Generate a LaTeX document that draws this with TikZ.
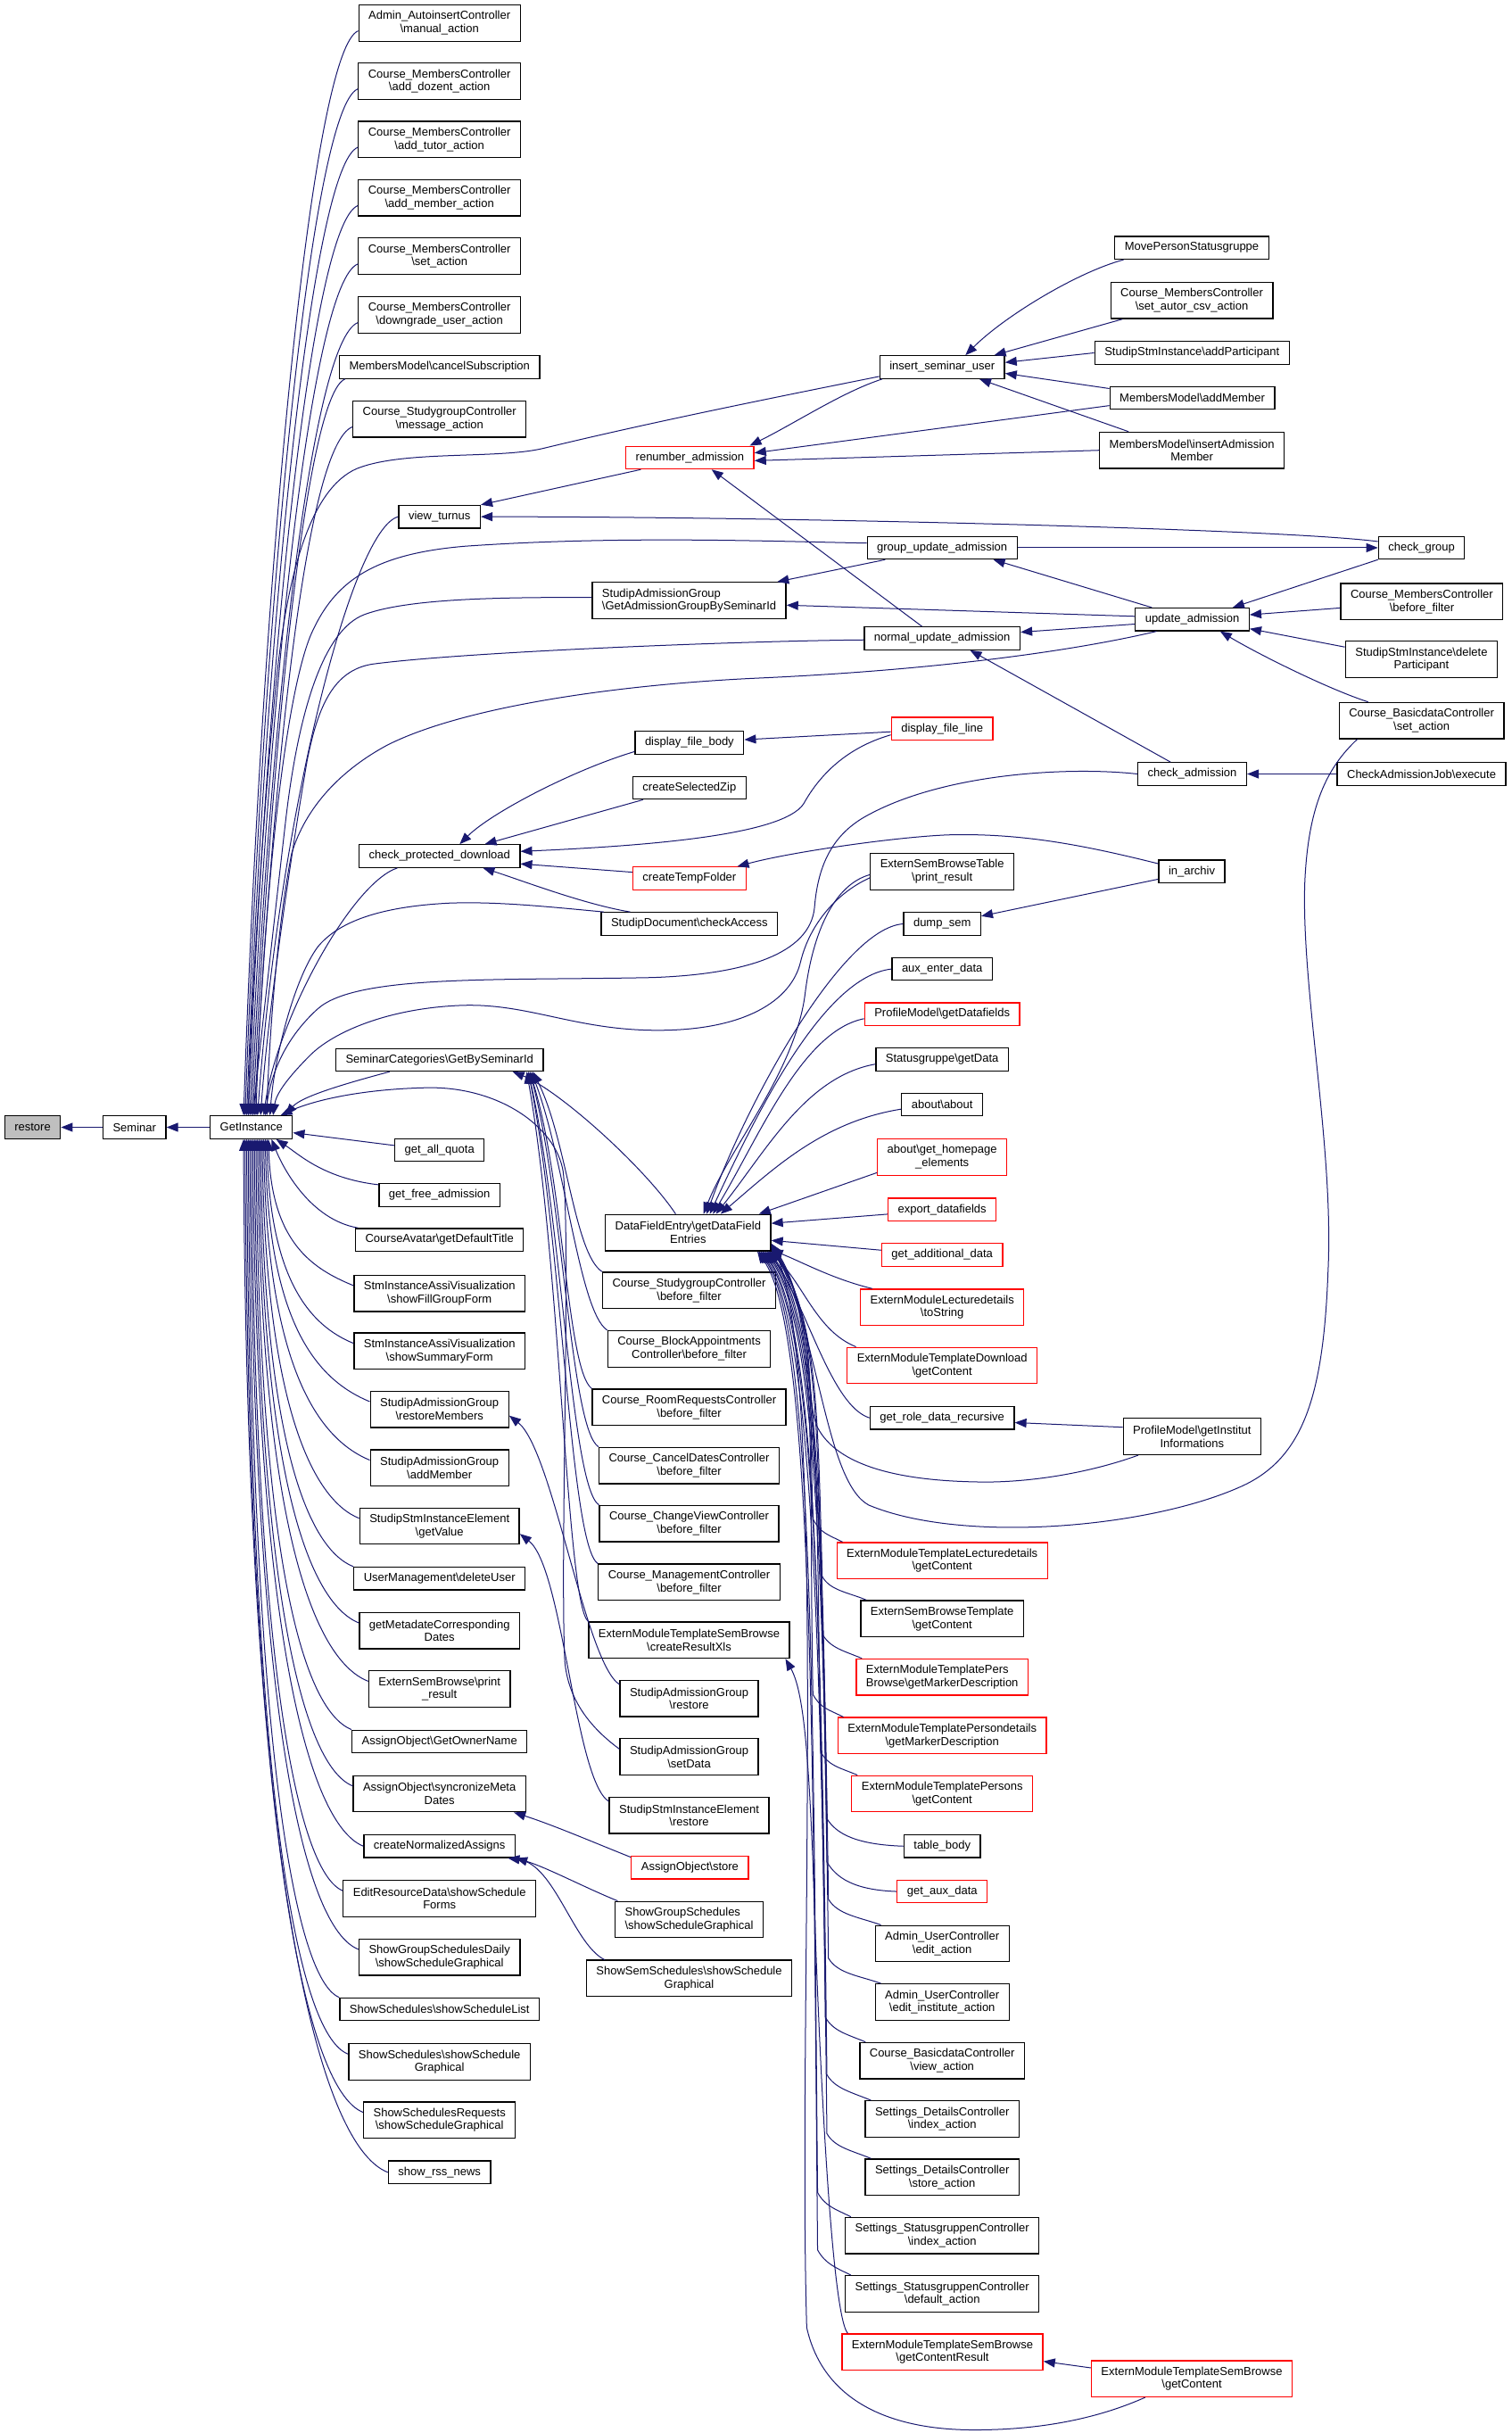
\documentclass[tikz,border=0pt]{standalone}
\usepackage{fontspec}
\setmainfont{Liberation Sans}
\usetikzlibrary{arrows.meta,calc}
\definecolor{edgec}{RGB}{25,25,112}
\definecolor{redb}{RGB}{255,0,0}
\definecolor{grayf}{RGB}{191,191,191}
\newcommand\BSL{\textbackslash}
\begin{document}
\begin{tikzpicture}[x=1.7385pt,y=-1.7385pt,
 every node/.style={font=\fontsize{13pt}{14.7pt}\selectfont},
 bx/.style={draw=black, line width=1.3pt, fill=white, inner xsep=11pt, inner ysep=0pt, align=center, minimum height=25.4pt},
 b2/.style={bx, minimum height=40.6pt},
 rd/.style={draw=redb},
 lnk/.style={draw=edgec, line width=1pt, -{Triangle[length=13pt,width=10pt]}},
]
\fill[white] (0,0) rectangle (974.6,1568);
\useasboundingbox (0,0) rectangle (974.6,1568);

% ---------- nodes ----------
\node[bx,fill=grayf] (restore) at (21,726.5) {restore};
\node[bx] (sem) at (86.7,726.5) {Seminar};
\node[bx] (GI) at (162,726.5) {GetInstance};

% col 2
\node[b2] (c2a) at (283.3,14.9) {Admin\_AutoinsertController\\\BSL manual\_action};
\node[b2] (c2b) at (283.3,52.3) {Course\_MembersController\\\BSL add\_dozent\_action};
\node[b2] (c2c) at (283.3,89.9) {Course\_MembersController\\\BSL add\_tutor\_action};
\node[b2] (c2d) at (283.3,127.5) {Course\_MembersController\\\BSL add\_member\_action};
\node[b2] (c2e) at (283.3,165.1) {Course\_MembersController\\\BSL set\_action};
\node[b2] (c2f) at (283.3,202.9) {Course\_MembersController\\\BSL downgrade\_user\_action};
\node[bx] (c2g) at (283.3,236.6) {MembersModel\BSL cancelSubscription};
\node[b2] (c2h) at (283.3,270.1) {Course\_StudygroupController\\\BSL message\_action};
\node[bx] (vt) at (283.3,333) {view\_turnus};
\node[bx] (cpd) at (283.3,551.7) {check\_protected\_download};
\node[bx] (sc) at (283.3,683) {SeminarCategories\BSL GetBySeminarId};
\node[bx] (gaq) at (283.3,741.2) {get\_all\_quota};
\node[bx] (gfa) at (283.3,770.2) {get\_free\_admission};
\node[bx] (cav) at (283.3,799) {CourseAvatar\BSL getDefaultTitle};
\node[b2] (sfg) at (283.3,833.5) {StmInstanceAssiVisualization\\\BSL showFillGroupForm};
\node[b2] (ssf) at (283.3,870.7) {StmInstanceAssiVisualization\\\BSL showSummaryForm};
\node[b2] (rm) at (283.3,908.3) {StudipAdmissionGroup\\\BSL restoreMembers};
\node[b2] (sam) at (283.3,946) {StudipAdmissionGroup\\\BSL addMember};
\node[b2] (gv) at (283.3,983.5) {StudipStmInstanceElement\\\BSL getValue};
\node[bx] (du) at (283.3,1017.3) {UserManagement\BSL deleteUser};
\node[b2] (gmd) at (283.3,1050.9) {getMetadateCorresponding\\Dates};
\node[b2] (esb) at (283.3,1088.5) {ExternSemBrowse\BSL print\\\_result};
\node[bx] (gon) at (283.3,1122.3) {AssignObject\BSL GetOwnerName};
\node[b2] (smd) at (283.3,1156) {AssignObject\BSL syncronizeMeta\\Dates};
\node[bx] (cna) at (283.3,1189.8) {createNormalizedAssigns};
\node[b2] (erd) at (283.3,1223.5) {EditResourceData\BSL showSchedule\\Forms};
\node[b2] (gsd) at (283.3,1261.3) {ShowGroupSchedulesDaily\\\BSL showScheduleGraphical};
\node[bx] (ssl) at (283.3,1294.9) {ShowSchedules\BSL showScheduleList};
\node[b2] (ssg) at (283.3,1328.8) {ShowSchedules\BSL showSchedule\\Graphical};
\node[b2] (ssr) at (283.3,1366.3) {ShowSchedulesRequests\\\BSL showScheduleGraphical};
\node[bx] (rss) at (283.3,1400) {show\_rss\_news};

% col 3
\node[bx,rd] (ren) at (444.7,294.9) {renumber\_admission};
\node[b2,align=left] (gag) at (444.2,387) {StudipAdmissionGroup\\\BSL GetAdmissionGroupBySeminarId};
\node[bx] (dfb) at (444.4,478.7) {display\_file\_body};
\node[bx] (csz) at (444.4,507.7) {createSelectedZip};
\node[bx,rd] (ctf) at (444.4,566.1) {createTempFolder};
\node[bx] (sdc) at (444.4,595.4) {StudipDocument\BSL checkAccess};
\node[b2] (dfe) at (443.5,794.4) {DataFieldEntry\BSL getDataField\\Entries};
\node[b2] (csb) at (444.2,831.6) {Course\_StudygroupController\\\BSL before\_filter};
\node[b2] (cba) at (444.2,869.3) {Course\_BlockAppointments\\Controller\BSL before\_filter};
\node[b2] (crr) at (444.2,906.9) {Course\_RoomRequestsController\\\BSL before\_filter};
\node[b2] (ccd) at (444.2,944.5) {Course\_CancelDatesController\\\BSL before\_filter};
\node[b2] (ccv) at (444.2,981.9) {Course\_ChangeViewController\\\BSL before\_filter};
\node[b2] (cmg) at (444.2,1019.7) {Course\_ManagementController\\\BSL before\_filter};
\node[b2] (crx) at (444.2,1057) {ExternModuleTemplateSemBrowse\\\BSL createResultXls};
\node[b2] (sar) at (444.2,1094.6) {StudipAdmissionGroup\\\BSL restore};
\node[b2] (sasd) at (444.2,1132.2) {StudipAdmissionGroup\\\BSL setData};
\node[b2] (ser) at (444.2,1170) {StudipStmInstanceElement\\\BSL restore};
\node[bx,rd] (aos) at (444.7,1203.6) {AssignObject\BSL store};
\node[b2,align=left] (sgs) at (444.2,1237.1) {ShowGroupSchedules\\\BSL showScheduleGraphical};
\node[b2] (sss) at (444.2,1275) {ShowSemSchedules\BSL showSchedule\\Graphical};

% col 4
\node[bx] (isu) at (607.3,236.6) {insert\_seminar\_user};
\node[bx] (gua) at (607.3,353) {group\_update\_admission};
\node[bx] (nua) at (607.3,411.4) {normal\_update\_admission};
\node[bx,rd] (dfl) at (607.3,469.6) {display\_file\_line};
\node[b2] (est) at (607.3,561.7) {ExternSemBrowseTable\\\BSL print\_result};
\node[bx] (dsm) at (607.3,595.4) {dump\_sem};
\node[bx] (aed) at (607.3,624.5) {aux\_enter\_data};
\node[bx,rd] (pgd) at (607.3,653.5) {ProfileModel\BSL getDatafields};
\node[bx] (sgd) at (607.3,682.8) {Statusgruppe\BSL getData};
\node[bx] (abt) at (607.3,711.8) {about\BSL about};
\node[b2,rd] (ghe) at (607.3,745.7) {about\BSL get\_homepage\\\_elements};
\node[bx,rd] (exd) at (607.3,779.5) {export\_datafields};
\node[bx,rd] (gad) at (607.3,808.7) {get\_additional\_data};
\node[b2,rd] (eml) at (607.3,842.5) {ExternModuleLecturedetails\\\BSL toString};
\node[b2,rd] (etd) at (607.3,880) {ExternModuleTemplateDownload\\\BSL getContent};
\node[bx] (grd) at (607.3,913.8) {get\_role\_data\_recursive};
\node[b2,rd] (etl) at (607.3,1005.8) {ExternModuleTemplateLecturedetails\\\BSL getContent};
\node[b2] (esbt) at (607.3,1043.2) {ExternSemBrowseTemplate\\\BSL getContent};
\node[b2,rd,align=left] (epb) at (607.3,1080.8) {ExternModuleTemplatePers\\Browse\BSL getMarkerDescription};
\node[b2,rd] (epd) at (607.3,1118.6) {ExternModuleTemplatePersondetails\\\BSL getMarkerDescription};
\node[b2,rd] (eps) at (607.3,1156) {ExternModuleTemplatePersons\\\BSL getContent};
\node[bx] (tbd) at (607.3,1189.8) {table\_body};
\node[bx,rd] (gxd) at (607.3,1219) {get\_aux\_data};
\node[b2] (aue) at (607.3,1252.6) {Admin\_UserController\\\BSL edit\_action};
\node[b2] (aui) at (607.3,1290.3) {Admin\_UserController\\\BSL edit\_institute\_action};
\node[b2] (cbv) at (607.3,1328) {Course\_BasicdataController\\\BSL view\_action};
\node[b2] (sdi) at (607.3,1365.6) {Settings\_DetailsController\\\BSL index\_action};
\node[b2] (sds) at (607.3,1403.1) {Settings\_DetailsController\\\BSL store\_action};
\node[b2] (ssi) at (607.3,1440.7) {Settings\_StatusgruppenController\\\BSL index\_action};
\node[b2] (ssd) at (607.3,1478.3) {Settings\_StatusgruppenController\\\BSL default\_action};
\node[b2,rd] (gcr) at (607.5,1515.8) {ExternModuleTemplateSemBrowse\\\BSL getContentResult};

% col 5
\node[bx] (mps) at (768.2,159.7) {MovePersonStatusgruppe};
\node[b2] (sac) at (768.2,193.6) {Course\_MembersController\\\BSL set\_autor\_csv\_action};
\node[bx] (sap) at (768.3,227.4) {StudipStmInstance\BSL addParticipant};
\node[bx] (mam) at (768.5,256.4) {MembersModel\BSL addMember};
\node[b2] (mia) at (768.3,290.2) {MembersModel\BSL insertAdmission\\Member};
\node[bx] (upd) at (768.5,399.2) {update\_admission};
\node[bx] (cha) at (768.5,498.8) {check\_admission};
\node[bx] (iar) at (768.2,561.6) {in\_archiv};
\node[b2] (gii) at (768.4,925.8) {ProfileModel\BSL getInstitut\\Informations};
\node[b2,rd] (gcn) at (768.2,1533) {ExternModuleTemplateSemBrowse\\\BSL getContent};

% col 6
\node[bx] (chg) at (916.3,353) {check\_group};
\node[b2] (cmb) at (916.5,387.8) {Course\_MembersController\\\BSL before\_filter};
\node[b2] (sdp) at (916.2,425) {StudipStmInstance\BSL delete\\Participant};
\node[b2] (cbs) at (916.3,464.4) {Course\_BasicdataController\\\BSL set\_action};
\node[bx] (caj) at (916.3,498.8) {CheckAdmissionJob\BSL execute};

% ---------- edges ----------
\draw[lnk] (sem.west) -- (restore.east);
\draw[lnk] (GI.west) -- (sem.east);

% column 2 above GetInstance
\draw[lnk] ($(c2a.west)+(0,5)$) .. controls +(-30,12) and +(12,-349) .. ($(GI.north)+(-5,0)$);
\draw[lnk] ($(c2b.west)+(0,5)$) .. controls +(-30,12) and +(12,-331) .. ($(GI.north)+(-4,0)$);
\draw[lnk] ($(c2c.west)+(0,5)$) .. controls +(-30,12) and +(12,-312) .. ($(GI.north)+(-3,0)$);
\draw[lnk] ($(c2d.west)+(0,5)$) .. controls +(-30,12) and +(12,-293) .. ($(GI.north)+(-2,0)$);
\draw[lnk] ($(c2e.west)+(0,5)$) .. controls +(-30,12) and +(12,-274) .. ($(GI.north)+(-1,0)$);
\draw[lnk] ($(c2f.west)+(0,5)$) .. controls +(-30,12) and +(12,-256) .. (GI.north);
\draw[lnk] ($(c2g.south west)+(4,0)$) .. controls +(-25,10) and +(12,-239) .. ($(GI.north)+(1,0)$);
\draw[lnk] ($(c2h.west)+(0,5)$) .. controls +(-30,12) and +(12,-222) .. ($(GI.north)+(2,0)$);
\draw[lnk] (vt.west) .. controls +(-30,8) and +(14,-193) .. ($(GI.north)+(4,0)$);
\draw[lnk] ($(cpd.south west)+(25,0)$) .. controls +(-30,10) and +(8,-60) .. ($(GI.north)+(8,0)$);
\draw[lnk] ($(sc.south west)+(35,0)$) .. controls +(-30,8) and +(10,-12) .. ($(GI.north)+(22,0)$);

% column 2 below GetInstance
\draw[lnk] ($(gaq.west)+(0,-3)$) -- ($(GI.east)+(0,3.5)$);
\draw[lnk] ($(gfa.north west)+(0,1)$) .. controls +(-35,-4) and +(15,10) .. ($(GI.south)+(16,0)$);
\draw[lnk] ($(cav.north west)+(2,0)$) .. controls +(-30,-5) and +(8,20) .. ($(GI.south)+(13,0)$);
\draw[lnk] ($(sfg.west)+(0,-5)$) .. controls +(-27,-11) and +(2,66) .. ($(GI.south)+(11,0)$);
\draw[lnk] ($(ssf.west)+(0,-5)$) .. controls +(-27,-11) and +(2,92) .. ($(GI.south)+(10,0)$);
\draw[lnk] ($(rm.west)+(0,-5)$) .. controls +(-34,-14) and +(2,119) .. ($(GI.south)+(9,0)$);
\draw[lnk] ($(sam.west)+(0,-5)$) .. controls +(-34,-14) and +(2,145) .. ($(GI.south)+(8,0)$);
\draw[lnk] ($(gv.west)+(0,-5)$) .. controls +(-30,-12) and +(2,171) .. ($(GI.south)+(7,0)$);
\draw[lnk] (du.north west) .. controls +(-30,-12) and +(2,193) .. ($(GI.south)+(6,0)$);
\draw[lnk] ($(gmd.west)+(0,-5)$) .. controls +(-32,-13) and +(2,218) .. ($(GI.south)+(5,0)$);
\draw[lnk] ($(esb.west)+(0,-5)$) .. controls +(-36,-14) and +(2,245) .. ($(GI.south)+(4,0)$);
\draw[lnk] (gon.north west) .. controls +(-32,-13) and +(2,267) .. ($(GI.south)+(3,0)$);
\draw[lnk] ($(smd.west)+(0,-5)$) .. controls +(-32,-13) and +(2,292) .. ($(GI.south)+(2,0)$);
\draw[lnk] (cna.west) .. controls +(-35,-14) and +(2,319) .. ($(GI.south)+(1,0)$);
\draw[lnk] ($(erd.west)+(0,-5)$) .. controls +(-29,-12) and +(2,340) .. (GI.south);
\draw[lnk] ($(gsd.west)+(0,-5)$) .. controls +(-36,-14) and +(2,366) .. ($(GI.south)+(-1,0)$);
\draw[lnk] (ssl.north west) .. controls +(-29,-12) and +(2,388) .. ($(GI.south)+(-2,0)$);
\draw[lnk] ($(ssg.west)+(0,-5)$) .. controls +(-34,-13) and +(2,413) .. ($(GI.south)+(-3,0)$);
\draw[lnk] ($(ssr.west)+(0,-5)$) .. controls +(-38,-15) and +(2,439) .. ($(GI.south)+(-4,0)$);
\draw[lnk] (rss.west) .. controls +(-46,-18) and +(2,466) .. ($(GI.south)+(-5,0)$);

% long edges to GetInstance
\draw[lnk] ($(isu.west)+(0,6)$) .. controls (500,256) and (420,272) .. (350,289) .. controls (320,296) and (260,290) .. (230,302) .. controls (200,315) and (185,370) .. (178,440) .. controls (170,520) and (162,640) .. ($(GI.north)+(-2,0)$);
\draw[lnk] ($(gua.west)+(0,-3)$) .. controls (500,349) and (400,345) .. (300,352) .. controls (240,357) and (215,375) .. (200,410) .. controls (180,460) and (168,620) .. ($(GI.north)+(3,0)$);
\draw[lnk] ($(gag.west)+(0,-2)$) .. controls (330,385) and (265,385) .. (235,396) .. controls (208,406) and (192,460) .. (184,530) .. controls (176,600) and (167,680) .. ($(GI.north)+(1,0)$);
\draw[lnk] ($(nua.west)+(0,1)$) .. controls (480,413) and (300,420) .. (240,428) .. controls (215,432) and (205,455) .. (198,490) .. controls (186,560) and (172,660) .. ($(GI.north)+(6,0)$);
\draw[lnk] ($(upd.south west)+(14,0)$) .. controls (690,420) and (600,432) .. (489,437) .. controls (400,441) and (300,455) .. (250,480) .. controls (220,496) and (197,520) .. (188,550) .. controls (178,600) and (173,680) .. ($(GI.north)+(10,0)$);
\draw[lnk] (cha.west) .. controls (690,494) and (610,498) .. (560,525) .. controls (535,538) and (527,560) .. (525,585) .. controls (522,615) and (480,628) .. (420,630) .. controls (320,632) and (230,628) .. (205,650) .. controls (185,668) and (175,690) .. ($(GI.north)+(9,0)$);
\draw[lnk] ($(est.west)+(0,4)$) .. controls (540,575) and (522,595) .. (516,620) .. controls (510,645) and (480,664) .. (424,664) .. controls (370,664) and (340,646) .. (296,648) .. controls (250,650) and (215,665) .. (200,680) .. controls (185,695) and (178,705) .. ($(GI.north)+(14,0)$);
\draw[lnk] ($(sdc.north west)+(2,0)$) .. controls (350,584) and (320,581) .. (290,582) .. controls (250,584) and (220,592) .. (205,610) .. controls (190,630) and (177,680) .. ($(GI.north)+(12,0)$);
\draw[lnk] ($(sasd.west)+(0,-5)$) .. controls (380,1113) and (366,1095) .. (364,1070) .. controls (361,1000) and (368,800) .. (363,755) .. controls (358,725) and (320,700) .. (275,701) .. controls (230,702) and (200,710) .. ($(GI.north east)+(-8,0)$);

% upper right cluster
\draw[lnk] ($(mps.south west)+(6,0)$) .. controls +(-30,8) and +(25,-25) .. ($(isu.north)+(15,0)$);
\draw[lnk] ($(sac.south west)+(8,0)$) -- ($(isu.north east)+(-7,0)$);
\draw[lnk] (sap.west) -- ($(isu.east)+(0,-3)$);
\draw[lnk] ($(mam.west)+(0,-6)$) -- ($(isu.east)+(0,4)$);
\draw[lnk] ($(mia.north west)+(19,0)$) -- ($(isu.south)+(24,0)$);
\draw[lnk] ($(isu.south west)+(2,0)$) .. controls +(-25,8) and +(30,-15) .. ($(ren.north east)+(-3,0)$);
\draw[lnk] ($(mam.west)+(0,5)$) -- ($(ren.east)+(0,-3)$);
\draw[lnk] (mia.west) -- ($(ren.east)+(0,2)$);
\draw[lnk] ($(ren.south west)+(10,0)$) -- (vt.north east);
\draw[lnk] ($(chg.west)+(0,-4)$) .. controls +(-60,-8) and +(200,0) .. (vt.east);
\draw[lnk] ($(nua.north)+(-13,0)$) -- ($(ren.south)+(14,0)$);
\draw[lnk] (gua.east) -- (chg.west);
\draw[lnk] ($(upd.north west)+(11,0)$) -- ($(gua.south)+(33,0)$);
\draw[lnk] ($(gua.south west)+(12,0)$) -- ($(gag.north east)+(-6,0)$);
\draw[lnk] ($(upd.west)+(0,-2)$) -- ($(gag.east)+(0,3)$);
\draw[lnk] ($(upd.west)+(0,3)$) -- ($(nua.east)+(0,-4)$);
\draw[lnk] (chg.south west) -- ($(upd.north east)+(-11,0)$);
\draw[lnk] ($(cmb.west)+(0,4)$) -- ($(upd.east)+(0,-3)$);
\draw[lnk] ($(sdp.west)+(0,-8)$) -- ($(upd.east)+(0,6)$);
\draw[lnk] ($(cbs.north west)+(19,0)$) .. controls +(-25,-8) and +(25,15) .. ($(upd.south)+(18,0)$);
\draw[lnk] ($(cha.north)+(-14,0)$) -- ($(nua.south)+(18,0)$);
\draw[lnk] (caj.west) -- (cha.east);

% file download cluster
\draw[lnk] ($(dfl.west)+(0,2)$) -- ($(dfb.east)+(0,-2)$);
\draw[lnk] ($(dfl.west)+(0,4)$) .. controls (545,482) and (528,500) .. (518,518) .. controls (505,538) and (420,545) .. ($(cpd.east)+(0,-3)$);
\draw[lnk] ($(dfb.south west)+(0,-2)$) .. controls +(-40,12) and +(20,-20) .. ($(cpd.north)+(13,0)$);
\draw[lnk] ($(csz.south west)+(7,0)$) -- ($(cpd.north east)+(-23,0)$);
\draw[lnk] ($(ctf.west)+(0,-4)$) -- ($(cpd.east)+(0,5)$);
\draw[lnk] ($(sdc.north west)+(19,0)$) .. controls +(-30,-5) and +(25,8) .. ($(cpd.south)+(28,0)$);
\draw[lnk] ($(iar.west)+(0,-5)$) .. controls (700,545) and (660,537) .. (613,538) .. controls (580,539) and (510,549) .. ($(ctf.north east)+(-6,0)$);
\draw[lnk] ($(iar.west)+(0,5)$) -- ($(dsm.east)+(0,-5)$);

% SeminarCategories callers
\draw[lnk] ($(dfe.north)+(-8,0)$) .. controls +(-20,-30) and +(30,12) .. ($(sc.south east)+(-20,0)$);
\draw[lnk] (csb.north west) .. controls +(-18,-12) and +(22,44) .. ($(sc.south east)+(-7,0)$);
\draw[lnk] (cba.north west) .. controls +(-18,-12) and +(22,58) .. ($(sc.south east)+(-8,0)$);
\draw[lnk] (crr.north west) .. controls +(-16,-12) and +(22,71) .. ($(sc.south east)+(-9,0)$);
\draw[lnk] (ccd.north west) .. controls +(-18,-12) and +(22,84) .. ($(sc.south east)+(-9,0)$);
\draw[lnk] (ccv.north west) .. controls +(-18,-12) and +(22,97) .. ($(sc.south east)+(-10,0)$);
\draw[lnk] (cmg.north west) .. controls +(-18,-12) and +(22,110) .. ($(sc.south east)+(-10,0)$);
\draw[lnk] (crx.north west) .. controls +(-14,-12) and +(22,123) .. ($(sc.south east)+(-11,0)$);

% short column 3 -> column 2
\draw[lnk] ($(sar.north west)+(0,3)$) .. controls +(-22,-14) and +(28,22) .. ($(rm.east)+(0,4)$);
\draw[lnk] ($(ser.north west)+(0,3)$) .. controls +(-22,-14) and +(28,22) .. ($(gv.east)+(0,5)$);
\draw[lnk] ($(aos.north west)+(0,1)$) .. controls +(-25,-10) and +(25,8) .. ($(smd.south east)+(-8,0)$);
\draw[lnk] ($(sgs.north west)+(2,0)$) .. controls +(-20,-8) and +(20,6) .. (cna.south east);
\draw[lnk] ($(sss.north west)+(12,0)$) .. controls +(-20,-10) and +(30,4) .. ($(cna.south east)+(-5,0)$);

% DataFieldEntry callers (upper)
\draw[lnk] ($(est.west)+(0,2)$) .. controls (538,570) and (524,600) .. (519,640) .. controls (513,690) and (470,740) .. ($(dfe.north)+(10,0)$);
\draw[lnk] (dsm.west) .. controls +(-40,3) and +(25,-70) .. ($(dfe.north)+(12,0)$);
\draw[lnk] (aed.west) .. controls +(-45,5) and +(28,-60) .. ($(dfe.north)+(14,0)$);
\draw[lnk] ($(pgd.west)+(0,3)$) .. controls +(-40,8) and +(30,-50) .. ($(dfe.north)+(16,0)$);
\draw[lnk] ($(sgd.west)+(0,3)$) .. controls +(-45,8) and +(32,-40) .. ($(dfe.north)+(18,0)$);
\draw[lnk] ($(abt.west)+(0,3)$) .. controls +(-50,8) and +(35,-30) .. ($(dfe.north)+(21,0)$);
\draw[lnk] ($(ghe.south west)+(0,-2)$) -- ($(dfe.north east)+(-8,0)$);
\draw[lnk] ($(exd.west)+(0,3)$) -- ($(dfe.east)+(0,-6)$);
\draw[lnk] ($(gad.west)+(0,-3)$) -- ($(dfe.east)+(0,5)$);
\draw[lnk] ($(eml.north west)+(8,0)$) .. controls +(-25,-6) and +(20,8) .. ($(dfe.south east)+(0,-1)$);
\draw[lnk] ($(etd.north west)+(6,0)$) .. controls +(-25,-10) and +(22,22) .. ($(dfe.south east)+(-1,0)$);
\draw[lnk] (grd.west) .. controls +(-25,-8) and +(25,35) .. ($(dfe.south east)+(-2,0)$);
\draw[lnk] ($(gii.west)+(0,-6)$) -- ($(grd.east)+(0,3)$);
\draw[lnk] ($(gii.south west)+(10,0)$) .. controls (700,950) and (660,956) .. (628,955) .. controls (580,954) and (540,945) .. (527,920) .. controls (518,900) and (525,845) .. ($(dfe.south east)+(0,-3)$);
\draw[lnk] ($(cbs.south west)+(12,0)$) .. controls (855,495) and (843,520) .. (841,570) .. controls (839,640) and (860,740) .. (856,820) .. controls (853,900) and (840,940) .. (800,958) .. controls (740,985) and (620,995) .. (560,970) .. controls (532,955) and (528,860) .. ($(dfe.south east)+(0,-4)$);

% DataFieldEntry callers (lower)
\draw[lnk] ($(etl.north west)+(4,0)$) .. controls +(-10,-5) and +(5,9) .. (524,979) .. controls +(-3,-86) and +(30,45) .. ($(dfe.south east)+(0,-1)$);
\draw[lnk] ($(esbt.north west)+(4,0)$) .. controls +(-12,-5) and +(5,9) .. (530,1016) .. controls +(-3,-105) and +(30,45) .. ($(dfe.south east)+(0,-2)$);
\draw[lnk] ($(epb.north west)+(4,0)$) .. controls +(-12,-5) and +(5,9) .. (530,1053) .. controls +(-3,-123) and +(31,46) .. ($(dfe.south east)+(0,-3)$);
\draw[lnk] ($(epd.north west)+(4,0)$) .. controls +(-10,-5) and +(5,9) .. (524,1092) .. controls +(-3,-143) and +(31,46) .. ($(dfe.south east)+(0,-4)$);
\draw[lnk] ($(eps.north west)+(4,0)$) .. controls +(-12,-5) and +(5,9) .. (529,1129) .. controls +(-3,-161) and +(32,47) .. ($(dfe.south east)+(0,-5)$);
\draw[lnk] (tbd.west) .. controls +(-30,-1) and +(6,10) .. (533,1172) .. controls +(-3,-183) and +(32,47) .. ($(dfe.south east)+(-1,0)$);
\draw[lnk] (gxd.west) .. controls +(-28,-1) and +(6,10) .. (533,1200) .. controls +(-3,-197) and +(33,48) .. ($(dfe.south east)+(-2,0)$);
\draw[lnk] ($(aue.north west)+(4,0)$) .. controls +(-14,-5) and +(6,10) .. (534,1224) .. controls +(-3,-209) and +(33,48) .. ($(dfe.south east)+(-3,0)$);
\draw[lnk] ($(aui.north west)+(4,0)$) .. controls +(-14,-5) and +(6,10) .. (534,1262) .. controls +(-3,-228) and +(34,48) .. ($(dfe.south east)+(-4,0)$);
\draw[lnk] ($(cbv.north west)+(4,0)$) .. controls +(-12,-5) and +(5,9) .. (532,1300) .. controls +(-3,-247) and +(34,49) .. ($(dfe.south east)+(-5,0)$);
\draw[lnk] ($(sdi.north west)+(4,0)$) .. controls +(-12,-5) and +(5,9) .. (533,1337) .. controls +(-3,-265) and +(35,49) .. ($(dfe.south east)+(-6,0)$);
\draw[lnk] ($(sds.north west)+(4,0)$) .. controls +(-12,-5) and +(5,9) .. (533,1375) .. controls +(-3,-284) and +(35,50) .. ($(dfe.south east)+(-7,0)$);
\draw[lnk] ($(ssi.north west)+(4,0)$) .. controls +(-10,-5) and +(5,9) .. (527,1413) .. controls +(-3,-303) and +(36,50) .. ($(dfe.south east)+(-8,0)$);
\draw[lnk] ($(ssd.north west)+(4,0)$) .. controls +(-10,-5) and +(5,9) .. (527,1450) .. controls +(-3,-322) and +(36,51) .. ($(dfe.south east)+(-9,0)$);

% bottom cluster
\draw[lnk] ($(gcn.west)+(0,-7)$) -- ($(gcr.east)+(0,6)$);
\draw[lnk] ($(gcn.south west)+(35,0)$) .. controls (700,1562) and (660,1566) .. (628,1566) .. controls (570,1566) and (530,1545) .. (520,1500) .. controls (514,1300) and (534,880) .. ($(dfe.south east)+(0,-5)$);
\draw[lnk] ($(gcr.north west)+(4,0)$) .. controls (535,1490) and (527,1300) .. (524,1200) .. controls (521,1130) and (518,1090) .. ($(crx.south east)+(-3,0)$);

\end{tikzpicture}
\end{document}
